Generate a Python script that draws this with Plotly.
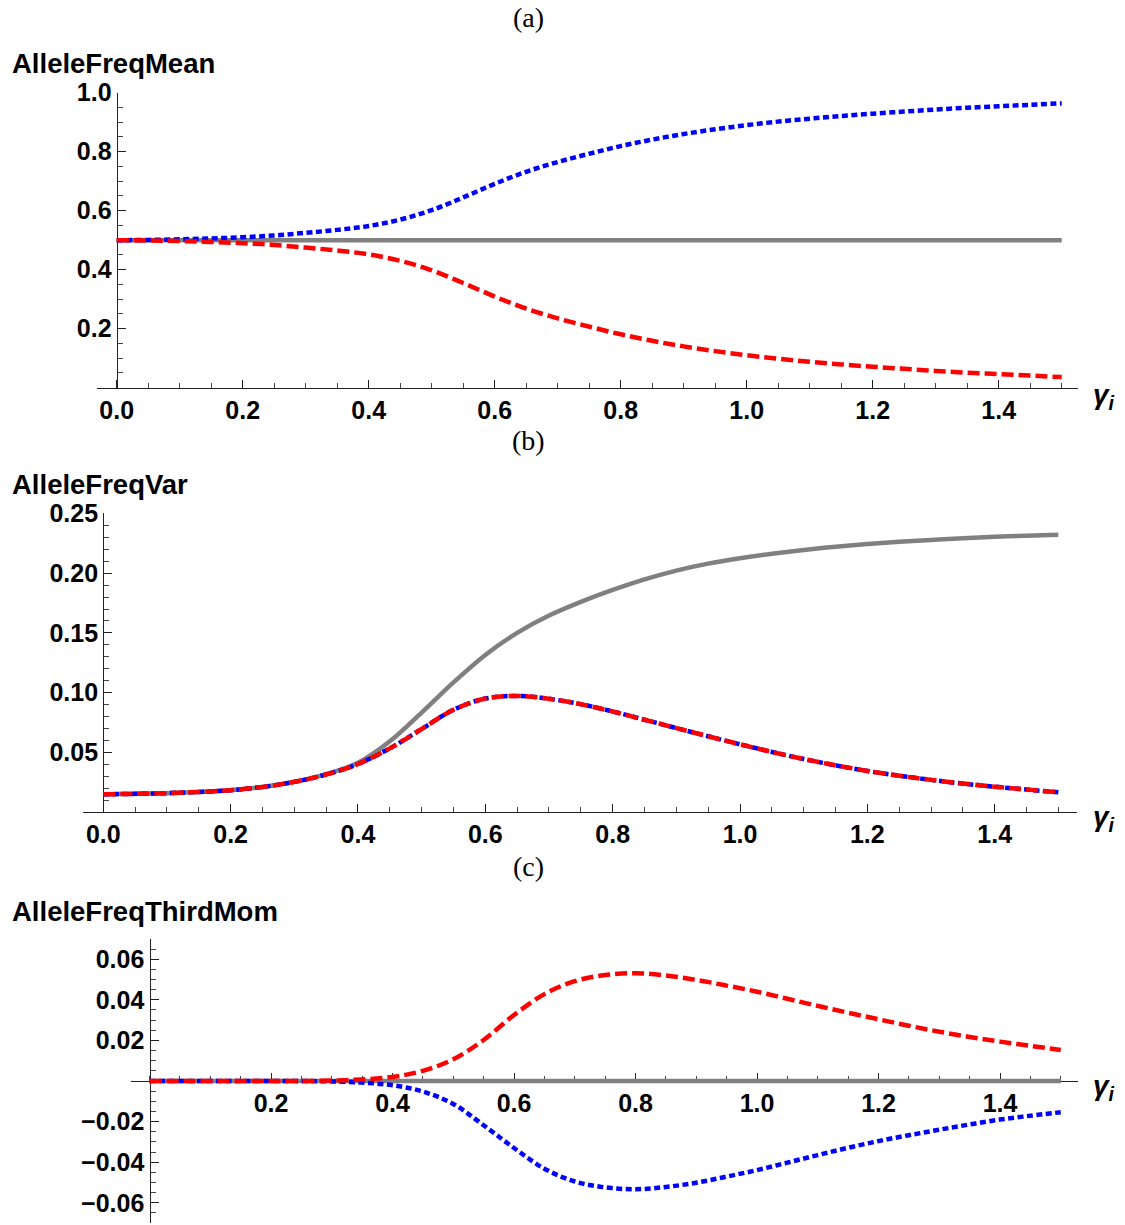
import plotly.graph_objects as go

# ---------------- data ----------------
gamma = [0.00, 0.05, 0.10, 0.15, 0.20, 0.25, 0.30, 0.35, 0.40, 0.45, 0.50, 0.55, 0.60, 0.65,
         0.70, 0.75, 0.80, 0.85, 0.90, 0.95, 1.00, 1.05, 1.10, 1.15, 1.20, 1.25, 1.30, 1.35,
         1.40, 1.45, 1.50]

mean_gray = [0.5] * len(gamma)
mean_blue = [0.500, 0.501, 0.503, 0.506, 0.510, 0.516, 0.525, 0.535, 0.548, 0.570, 0.602,
             0.645, 0.691, 0.732, 0.765, 0.793, 0.819, 0.841, 0.860, 0.876, 0.890, 0.902,
             0.912, 0.921, 0.929, 0.936, 0.943, 0.949, 0.954, 0.959, 0.964]
mean_red = [0.500, 0.499, 0.497, 0.494, 0.490, 0.484, 0.475, 0.465, 0.452, 0.430, 0.398,
            0.355, 0.309, 0.268, 0.235, 0.207, 0.181, 0.159, 0.140, 0.124, 0.110, 0.098,
            0.088, 0.079, 0.071, 0.064, 0.057, 0.051, 0.046, 0.041, 0.036]

var_gray = [0.0148, 0.0152, 0.0158, 0.0168, 0.0183, 0.0210, 0.0253, 0.0317, 0.0412, 0.0592,
            0.0832, 0.1085, 0.1315, 0.1500, 0.1645, 0.1760, 0.1860, 0.1948, 0.2022, 0.2080,
            0.2125, 0.2163, 0.2195, 0.2222, 0.2245, 0.2263, 0.2279, 0.2293, 0.2305, 0.2314, 0.2322]
var_blue = [0.0148, 0.0152, 0.0158, 0.0168, 0.0183, 0.0210, 0.0252, 0.0314, 0.0402, 0.0533,
            0.0695, 0.0856, 0.0950, 0.0972, 0.0948, 0.0903, 0.0842, 0.0773, 0.0703, 0.0634,
            0.0567, 0.0503, 0.0444, 0.0391, 0.0344, 0.0304, 0.0269, 0.0238, 0.0212, 0.0188, 0.0166]
var_red = list(var_blue)

third_gray = [0.0] * len(gamma)
third_red = [0.0, 0.0, 0.0, 0.0, 0.0, 0.0, 0.0002, 0.0008, 0.0020, 0.0050, 0.0107, 0.0202,
             0.0325, 0.0428, 0.0492, 0.0522, 0.0531, 0.0520, 0.0498, 0.0470, 0.0440, 0.0405,
             0.0370, 0.0336, 0.0304, 0.0272, 0.0243, 0.0217, 0.0194, 0.0173, 0.0153]
third_blue = [0.0, 0.0, 0.0, 0.0, 0.0, 0.0, -0.0002, -0.0008, -0.0021, -0.0052, -0.0113, -0.0218,
              -0.0330, -0.0432, -0.0495, -0.0524, -0.0533, -0.0522, -0.0501, -0.0471, -0.0439,
              -0.0402, -0.0365, -0.0329, -0.0296, -0.0267, -0.0240, -0.0214, -0.0190, -0.0171, -0.0154]

panel_titles = ["(a)", "(b)", "(c)"]
y_titles = ["AlleleFreqMean", "AlleleFreqVar", "AlleleFreqThirdMom"]

x_tick_a = [0.0, 0.2, 0.4, 0.6, 0.8, 1.0, 1.2, 1.4]
x_text_a = ["0.0", "0.2", "0.4", "0.6", "0.8", "1.0", "1.2", "1.4"]
x_tick_c = [0.2, 0.4, 0.6, 0.8, 1.0, 1.2, 1.4]
x_text_c = ["0.2", "0.4", "0.6", "0.8", "1.0", "1.2", "1.4"]
y_tick_a = [0.2, 0.4, 0.6, 0.8, 1.0]
y_text_a = ["0.2", "0.4", "0.6", "0.8", "1.0"]
y_tick_b = [0.05, 0.10, 0.15, 0.20, 0.25]
y_text_b = ["0.05", "0.10", "0.15", "0.20", "0.25"]
y_tick_c = [-0.06, -0.04, -0.02, 0.02, 0.04, 0.06]
y_text_c = ["\u22120.06", "\u22120.04", "\u22120.02", "0.02", "0.04", "0.06"]

# ---------------- layout geometry (pixels) ----------------
W, H = 1125, 1225
geo = [
    dict(x0=116.7, xs=630.0, L=96.5, R=1077.5, y0=387.7, ys=295.0, T=92.7, B=387.7,
         title_y=18, ylab_y=64, gam_y=396),
    dict(x0=103.3, xs=636.7, L=83.0, R=1077.0, y0=812.0, ys=1194.0, T=513.3, B=812.0,
         title_y=440, ylab_y=485, gam_y=818),
    dict(x0=149.5, xs=607.5, L=131.0, R=1077.7, y0=1081.0, ys=2030.0, T=939.3, B=1223.3,
         title_y=866, ylab_y=911, gam_y=1087),
]

FONT = "Liberation Sans"
GRAY, RED, BLUE = "#808080", "#FF0000", "#0000FF"
LW = 4.5

fig = go.Figure()

series = [
    (mean_gray, mean_blue, mean_red),
    (var_gray, var_blue, var_red),
    (third_gray, third_blue, third_red),
]

for i, (g, b, r) in enumerate(series):
    ax = "" if i == 0 else str(i + 1)
    xa, ya = "x" + ax, "y" + ax
    fig.add_trace(go.Scatter(x=gamma, y=g, mode="lines", xaxis=xa, yaxis=ya,
                             line=dict(color=GRAY, width=LW, shape="spline", smoothing=1.0),
                             showlegend=False, hoverinfo="skip"))
    fig.add_trace(go.Scatter(x=gamma, y=b, mode="lines", xaxis=xa, yaxis=ya,
                             line=dict(color=BLUE, width=LW, dash="6px,3.5px", shape="spline", smoothing=1.0),
                             showlegend=False, hoverinfo="skip"))
    fig.add_trace(go.Scatter(x=gamma, y=r, mode="lines", xaxis=xa, yaxis=ya,
                             line=dict(color=RED, width=LW, dash="12px,5px", shape="spline", smoothing=1.0),
                             showlegend=False, hoverinfo="skip"))

tickfont = dict(family=FONT, size=25, color="black", weight="bold")
xticks = [(x_tick_a, x_text_a), (x_tick_a, x_text_a), (x_tick_c, x_text_c)]
yticks = [(y_tick_a, y_text_a, 0.05), (y_tick_b, y_text_b, 0.01), (y_tick_c, y_text_c, 0.005)]

layout = dict(width=W, height=H, margin=dict(l=0, r=0, t=0, b=0, pad=0, autoexpand=False),
              autosize=False, plot_bgcolor="white", paper_bgcolor="white", showlegend=False)
annotations = []
for i, gm in enumerate(geo):
    ax = "" if i == 0 else str(i + 1)
    xr = [(gm["L"] - gm["x0"]) / gm["xs"], (gm["R"] - gm["x0"]) / gm["xs"]]
    yr = [(gm["y0"] - gm["B"]) / gm["ys"], (gm["y0"] - gm["T"]) / gm["ys"]]
    xdom = [gm["L"] / W, gm["R"] / W]
    ydom = [1 - gm["B"] / H, 1 - gm["T"] / H]
    xt, xtt = xticks[i]
    yt, ytt, ymin = yticks[i]
    xaxis = dict(domain=xdom, range=xr, showgrid=False, zeroline=False,
                 showline=True, linecolor="#222", linewidth=1.3,
                 ticks="inside", ticklen=8, tickwidth=1.2, tickcolor="#222",
                 tickmode="array", tickvals=xt, ticktext=xtt, tickfont=tickfont,
                 minor=dict(ticks="inside", ticklen=4.5, tickwidth=1, tickcolor="#444",
                            dtick=0.05, tick0=0, showgrid=False),
                 automargin=False, layer="below traces", fixedrange=True)
    if i == 2:
        xaxis.update(anchor="free", position=1 - gm["y0"] / H)
    else:
        xaxis.update(anchor="y" + ax)
    yaxis = dict(domain=ydom, range=yr, showgrid=False, zeroline=False,
                 showline=True, linecolor="#222", linewidth=1.3,
                 ticks="inside", ticklen=8, tickwidth=1.2, tickcolor="#222",
                 tickmode="array", tickvals=yt, ticktext=ytt, tickfont=tickfont,
                 minor=dict(ticks="inside", ticklen=5, tickwidth=1, tickcolor="#444",
                            dtick=ymin, tick0=0, showgrid=False),
                 anchor="free", position=gm["x0"] / W,
                 automargin=False, layer="below traces", fixedrange=True)
    layout["xaxis" + ax] = xaxis
    layout["yaxis" + ax] = yaxis

    annotations.append(dict(text=panel_titles[i], xref="paper", yref="paper",
                            x=528 / W, y=1 - gm["title_y"] / H, xanchor="center", yanchor="middle",
                            showarrow=False, font=dict(family="Liberation Serif", size=28, color="black")))
    annotations.append(dict(text="<b>" + y_titles[i] + "</b>", xref="paper", yref="paper",
                            x=10 / W, y=1 - gm["ylab_y"] / H, xanchor="left", yanchor="middle",
                            showarrow=False, font=dict(family=FONT, size=27.5, color="black")))
    annotations.append(dict(text="<b><i>\u03b3</i></b><sub><b><i>i</i></b></sub>", xref="paper", yref="paper",
                            x=1091 / W, y=1 - gm["gam_y"] / H, xanchor="left", yanchor="middle",
                            showarrow=False, font=dict(family=FONT, size=28, color="black")))

layout["annotations"] = annotations
fig.update_layout(**layout)
fig.write_html("out.html")
